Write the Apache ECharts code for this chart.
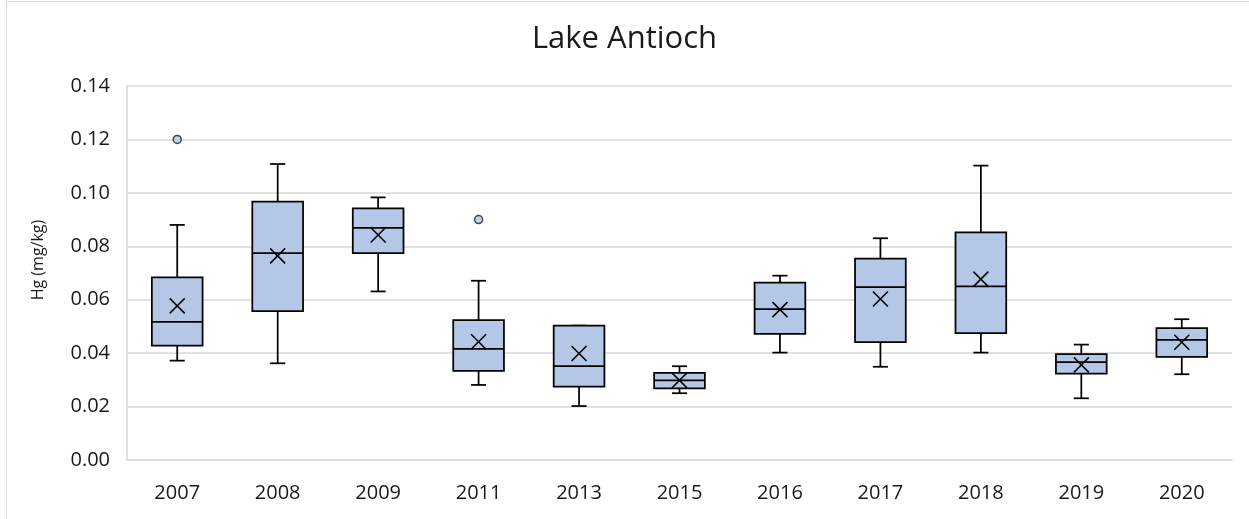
<!DOCTYPE html>
<html>
<head>
<meta charset="utf-8">
<script src="https://cdn.jsdelivr.net/npm/echarts@6/dist/echarts.min.js"></script>
<style>html,body{margin:0;padding:0;background:#fff}#c{width:1249px;height:519px}</style>
</head>
<body>
<div id="c"></div>
<script>
const categories = ['2007','2008','2009','2011','2013','2015','2016','2017','2018','2019','2020'];
const whiskerLow  = [0.0372,0.0362,0.0631,0.0281,0.0202,0.0250,0.0402,0.0349,0.0402,0.0231,0.0321];
const q1          = [0.0428,0.0557,0.0774,0.0334,0.0275,0.0268,0.0472,0.0441,0.0475,0.0323,0.0386];
const median      = [0.0517,0.0774,0.0869,0.0416,0.0351,0.0298,0.0565,0.0647,0.0650,0.0366,0.0450];
const q3          = [0.0684,0.0967,0.0942,0.0524,0.0503,0.0326,0.0664,0.0754,0.0852,0.0396,0.0494];
const whiskerHigh = [0.0880,0.1108,0.0983,0.0671,0.0503,0.0351,0.0690,0.0830,0.1102,0.0432,0.0527];
const mean        = [0.0577,0.0764,0.0842,0.0443,0.0399,0.0298,0.0563,0.0603,0.0677,0.0356,0.0441];
const outliers    = [['2007',0.120],['2011',0.090]];
const yTicks = {min:0, max:0.14, interval:0.02};

const FONT = 'Open Sans';
const TXT = '#1a1a1a';
const boxData = categories.map((c,i)=>[i, whiskerLow[i], q1[i], median[i], q3[i], whiskerHigh[i], mean[i]]);

function renderBox(params, api){
  const i = api.value(0);
  const x = api.coord([i, 0])[0];
  const band = api.size([1, 0])[0];
  const w = band * 0.505;
  const cap = band * 0.15;
  const y = k => api.coord([i, api.value(k)])[1];
  const yMin = y(1), yQ1 = y(2), yMed = y(3), yQ3 = y(4), yMax = y(5), yMean = y(6);
  const ls = {stroke:'#000', lineWidth:1.75, fill:null};
  const xs = 7.5;
  return {type:'group', children:[
    {type:'line', shape:{x1:x,y1:yQ3,x2:x,y2:yMax}, style:ls},
    {type:'line', shape:{x1:x-cap/2,y1:yMax,x2:x+cap/2,y2:yMax}, style:ls},
    {type:'line', shape:{x1:x,y1:yQ1,x2:x,y2:yMin}, style:ls},
    {type:'line', shape:{x1:x-cap/2,y1:yMin,x2:x+cap/2,y2:yMin}, style:ls},
    {type:'rect', shape:{x:x-w/2,y:yQ3,width:w,height:yQ1-yQ3}, style:{fill:'#b4c7e7', stroke:'#000', lineWidth:1.75}},
    {type:'line', shape:{x1:x-w/2,y1:yMed,x2:x+w/2,y2:yMed}, style:ls},
    {type:'line', shape:{x1:x-xs,y1:yMean-xs,x2:x+xs,y2:yMean+xs}, style:{stroke:'#000', lineWidth:1.5}},
    {type:'line', shape:{x1:x-xs,y1:yMean+xs,x2:x+xs,y2:yMean-xs}, style:{stroke:'#000', lineWidth:1.5}}
  ]};
}

const chart = echarts.init(document.getElementById('c'), null, {renderer:'canvas'});
chart.setOption({
  animation:false,
  backgroundColor:'#fff',
  title:{text:'Lake Antioch', left:'center', top:19, textStyle:{fontFamily:FONT, fontSize:31, fontWeight:'normal', color:TXT}},
  graphic:[
    {type:'rect', z:-10, shape:{x:6.5,y:1.5,width:1400,height:700}, style:{fill:null, stroke:'#d9d9d9', lineWidth:1}},
    {type:'text', x:38, y:260, rotation:Math.PI/2, style:{text:'Hg (mg/kg)', font:'16px "Open Sans"', fill:TXT, align:'center', verticalAlign:'middle'}}
  ],
  grid:{left:127, right:17, top:86, bottom:59},
  xAxis:{type:'category', data:categories,
    axisLine:{show:true, lineStyle:{color:'#d9d9d9', width:1.5}},
    axisTick:{show:false},
    axisLabel:{fontFamily:FONT, fontSize:20, color:TXT, margin:23},
    splitLine:{show:false}},
  yAxis:{type:'value', min:yTicks.min, max:yTicks.max, interval:yTicks.interval,
    axisLine:{show:true, lineStyle:{color:'#d9d9d9', width:1.5}},
    axisTick:{show:false},
    axisLabel:{fontFamily:FONT, fontSize:20, color:TXT, margin:17, formatter:v=>v.toFixed(2)},
    splitLine:{show:true, lineStyle:{color:'#d9d9d9', width:1.5}}},
  series:[
    {type:'custom', renderItem:renderBox, data:boxData, encode:{x:0, y:[1,2,3,4,5,6]}, z:3},
    {type:'scatter', data:outliers, symbol:'circle', symbolSize:8, z:4,
      itemStyle:{color:'#b4c7e7', borderColor:'#1a1a1a', borderWidth:1.5}}
  ]
});
</script>
</body>
</html>
